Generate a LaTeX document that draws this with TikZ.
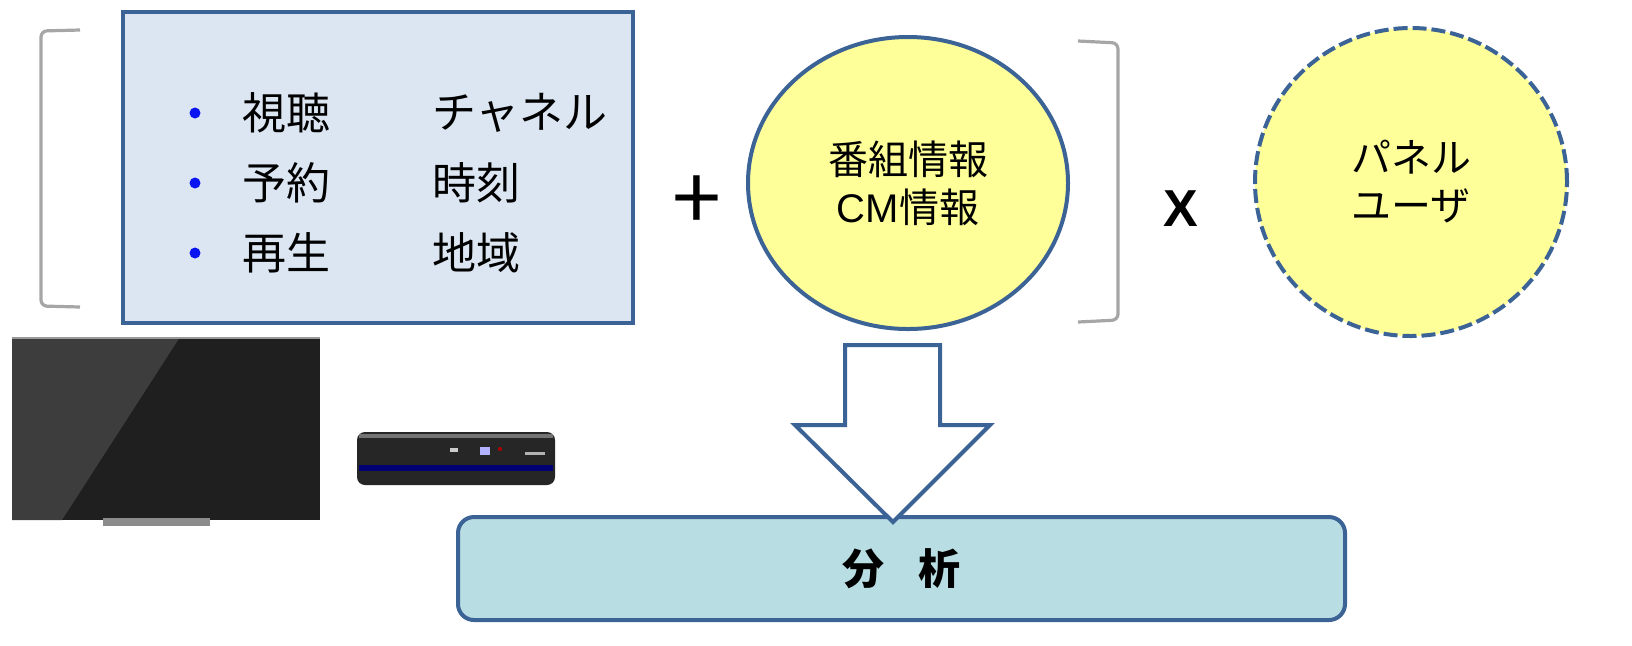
\documentclass[tikz,border=0pt]{standalone}
\usepackage{fontspec}
\setmainfont{Noto Sans CJK JP}
\newfontfamily\latinfont{Liberation Sans}
\usepackage{xcolor}
\usetikzlibrary{positioning,shapes.geometric}

\definecolor{frameblue}{HTML}{3B6396}
\definecolor{listfill}{HTML}{DCE6F2}
\definecolor{infoyellow}{HTML}{FFFF99}
\definecolor{analfill}{HTML}{B8DDE2}
\definecolor{bracketgray}{HTML}{A6A6A6}
\definecolor{dotblue}{HTML}{0A14F0}

\tikzset{
	listbox/.style={draw=frameblue,line width=2pt,fill=listfill,minimum width=255pt,minimum height=155.5pt},
	infobubble/.style={ellipse,draw=frameblue,line width=2pt,fill=infoyellow,align=center,font=\fontsize{20}{24}\selectfont},
	itemtext/.style={anchor=west,font=\fontsize{22}{26}\selectfont},
	bulletdot/.style={circle,fill=dotblue,inner sep=0pt,minimum size=5.5pt},
	bracketline/.style={draw=bracketgray,line width=1.6pt,rounded corners=3pt},
}

\begin{document}
\begin{tikzpicture}[x=0.5pt,y=-0.5pt]
	\useasboundingbox (0,0) rectangle (1632,645);
	
	% linke Klammer und Liste
	\draw[bracketline] (80,30) -- (41,31) -- (41,306) -- (80,307);
	\node[listbox] (liste) at (378,167.5) {};
	\foreach \y/\a/\b [count=\i] in {113/視聴/チャネル,183/予約/時刻,253/再生/地域} {
		\node[bulletdot] (dot\i) at (195,\y) {};
		\node[itemtext] (act\i) at (235,\y) {\a};
		\node[itemtext] (attr\i) at (425,\y) {\b};
	}
	
	\node[font=\fontsize{44}{44}\selectfont] (plus) at (697,203) {+};
	
	% Programminformation
	\node[infobubble,minimum width=160pt,minimum height=146pt] (info) at (908,183) {番組情報\\{\latinfont CM}情報};
	\draw[bracketline] (1078,41) -- (1118,43) -- (1118,320) -- (1078,322);
	
	\node[font=\fontsize{26}{26}\selectfont\latinfont\bfseries] (mal) at (1181,209) {X};
	
	% Panel
	\node[infobubble,minimum width=156pt,minimum height=154pt,dash pattern=on 7pt off 2.5pt] (panel) at (1411,182) {パネル\\ユーザ};
	
	% Analyse
	\node[draw=frameblue,line width=2pt,fill=analfill,rounded corners=8pt,minimum width=443.5pt,minimum height=51.5pt,font=\fontsize{21}{24}\selectfont\bfseries] (anal) at (901.5,568.5) {分\hspace{0.8em}析};
	
	% Blockpfeil
	\coordinate (tip) at ([yshift=-3.5pt]anal.north -| 893,0);
	\draw[frameblue,line width=2pt,fill=white,line join=miter] (845,345) -- (940,345) -- (940,425) -- (990,425) -- (tip) -- (795,425) -- (845,425) -- cycle;
	
	% Fernseher
	\fill[black!88] (12,337) rectangle (320,520);
	\fill[black!76] (12,337) -- (180,337) -- (62,520) -- (12,520) -- cycle;
	\draw[white!60!black,line width=1pt] (12,338) -- (320,338);
	\fill[black!45] (103,518) rectangle (210,526);
	
	% Rekorder
	\fill[black!85,rounded corners=4pt] (357,432) rectangle (555,485);
	\fill[black!55] (359,434) rectangle (553,438);
	\fill[blue!45!black] (359,465) rectangle (553,471);
	\fill[white!80!black] (450,448) rectangle (458,452);
	\fill[white!70!blue] (480,447) rectangle (490,455);
	\fill[red!70!black] (500,449) circle (2);
	\fill[white!70!black] (525,452) rectangle (545,455);
\end{tikzpicture}
\end{document}
